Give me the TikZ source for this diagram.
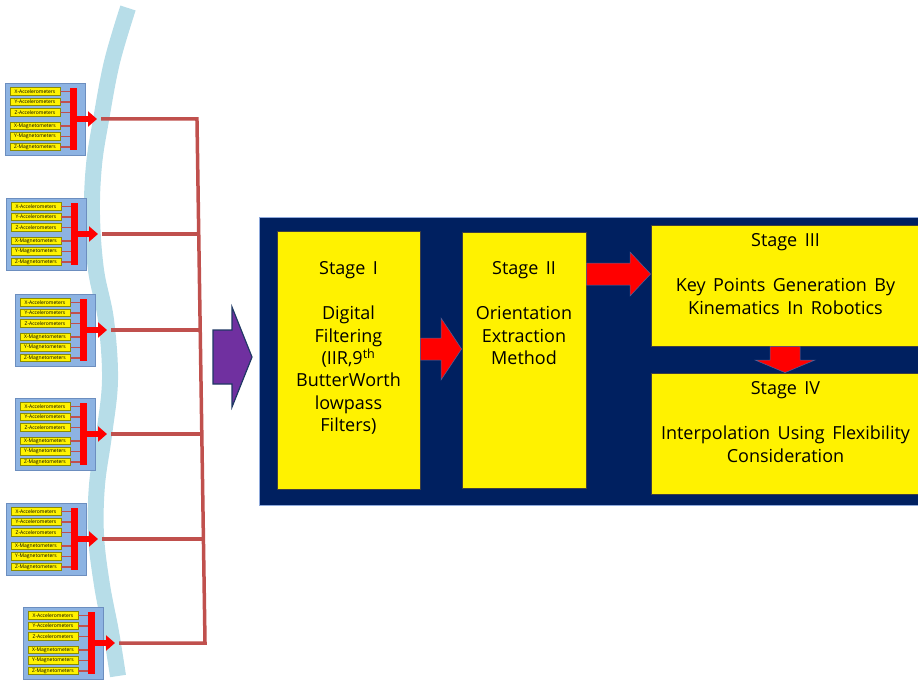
\documentclass[tikz,border=0pt]{standalone}
\usepackage{fontspec}
\setmainfont[WordSpace=1.6]{Open Sans}
\usetikzlibrary{positioning}
\usetikzlibrary{arrows.meta}

\definecolor{spineblue}{HTML}{B7DDE8}
\definecolor{modblue}{HTML}{8DB3E2}
\definecolor{modedge}{HTML}{6C8EBF}
\definecolor{labeledge}{HTML}{8C8C00}
\definecolor{busred}{HTML}{C0504D}
\definecolor{navy}{HTML}{002060}
\definecolor{paneledge}{HTML}{8FAADC}
\definecolor{purp}{HTML}{7030A0}
\definecolor{purpedge}{HTML}{1F3864}

\begin{document}
\begin{tikzpicture}[x=1pt,y=-1pt,>={Triangle[length=9pt,width=15pt]},
                    node distance=2cm,semithick]
  \tikzstyle{modbox}=[draw=modedge,fill=modblue,minimum width=80pt,minimum height=72pt,inner sep=0pt,anchor=north west]
  \tikzstyle{senslabel}=[draw=labeledge,fill=yellow,minimum width=50pt,minimum height=7.5pt,inner sep=0pt,font=\fontsize{5}{6}\selectfont]
  \tikzstyle{bar}=[fill=red,minimum width=7pt,minimum height=62pt,inner sep=0pt]
  \tikzstyle{tick}=[draw=busred,line width=1.3pt]
  \tikzstyle{modarrow}=[->,draw=red,line width=6.5pt]
  \tikzstyle{bus}=[draw=busred,line width=3.5pt,line join=miter]
  \tikzstyle{panel}=[draw=paneledge,fill=navy,line width=1pt,anchor=north west,minimum width=680pt,minimum height=288pt]
  \tikzstyle{stagebox}=[draw=black!75,fill=yellow,line width=0.8pt,inner sep=0pt]
  \tikzstyle{stagetext}=[align=center,inner sep=0pt,font=\fontsize{18}{22.4}\selectfont]
  \tikzstyle{stagearrow}=[fill=red,draw=paneledge!50!navy,line width=0.5pt]

  \useasboundingbox (0,0) rectangle (918,682);
  \clip (0,0) rectangle (918,682);

  % spine
  \draw[spineblue,line width=16pt] plot[smooth,tension=0.6] coordinates
    {(128,8) (112,62) (101,120) (94,165) (92,215) (96,270) (106,320) (110,380)
     (104,435) (97,485) (96,535) (102,585) (111,632) (118,676)};

  % sensor modules
  \foreach \i/\x/\y in {1/5/83,2/6/198,3/15/294,4/15/398,5/6/503,6/23/607}{
    \node[modbox] (M\i) at (\x,\y) {};
    \node[bar] (B\i) at (\x+68.5,\y+36) {};
    \foreach \j/\dy/\t in {1/8.5/X-Accelerometers,2/19/Y-Accelerometers,3/29.5/Z-Accelerometers,
                           4/43/X-Magnetometers,5/53.5/Y-Magnetometers,6/64/Z-Magnetometers}{
      \node[senslabel] (L\i-\j) at (\x+30,\y+\dy) {\t};
      \draw[tick] (L\i-\j.east) -- (L\i-\j.east -| B\i.west);
    }
    \coordinate (T\i) at (\x+92,\y+36);
    \coordinate (S\i) at (\x+96,\y+36);
    \coordinate (J\i) at ({197+8*(\y-85)/521},\y+36);
    \draw[modarrow] (B\i.east) -- (T\i);
  }

  % bus to the processing stages
  \draw[bus] (S1) -- (J1) -- (J6) -- (S6);
  \foreach \i in {2,...,5}
    \draw[bus] (S\i) -- (J\i);

  \filldraw[fill=purp,draw=purpedge,line width=1.2pt]
    (213,330) -- (232,330) -- (232,307) -- (252,357) -- (232,407) -- (232,384) -- (213,384) -- cycle;

  % stages
  \node[panel] (P) at (259,217) {};
  \node[stagebox,minimum width=143pt,minimum height=258pt] (St1) at (348.5,360) {};
  \node[stagebox,minimum width=124pt,minimum height=256pt] (St2) at (524,360) {};
  \node[stagebox,minimum width=269pt,minimum height=121pt] (St3) at (785.5,285.5) {};
  \node[stagebox,minimum width=269pt,minimum height=121pt] (St4) at (785.5,433.5) {};

  \node[stagetext,below=31pt of St1.north] {Stage I\\[22.4pt]Digital\\Filtering\\(IIR,9\textsuperscript{th}\\ButterWorth\\lowpass\\Filters)};
  \node[stagetext,below=30pt of St2.north] {Stage II\\[22.4pt]Orientation\\Extraction\\Method};
  \node[stagetext,below=9pt of St3.north] {Stage III\\[22.4pt]Key Points Generation By\\Kinematics In Robotics};
  \node[stagetext,below=9pt of St4.north] {Stage IV\\[22.4pt]Interpolation Using Flexibility\\Consideration};

  \filldraw[stagearrow] (St1.east |- 0,338) -- (441,338) -- (441,318) -- (St2.west |- 0,349)
    -- (441,380) -- (441,360) -- (St1.east |- 0,360) -- cycle;
  \filldraw[stagearrow] (St2.east |- 0,263) -- (630,263) -- (630,252) -- (St3.west |- 0,274)
    -- (630,296) -- (630,285) -- (St2.east |- 0,285) -- cycle;
  \filldraw[stagearrow] (St3.south -| 770,0) -- (770,360) -- (755,360) -- (St4.north -| 785,0)
    -- (815,360) -- (800,360) -- (St3.south -| 800,0) -- cycle;
\end{tikzpicture}
\end{document}
